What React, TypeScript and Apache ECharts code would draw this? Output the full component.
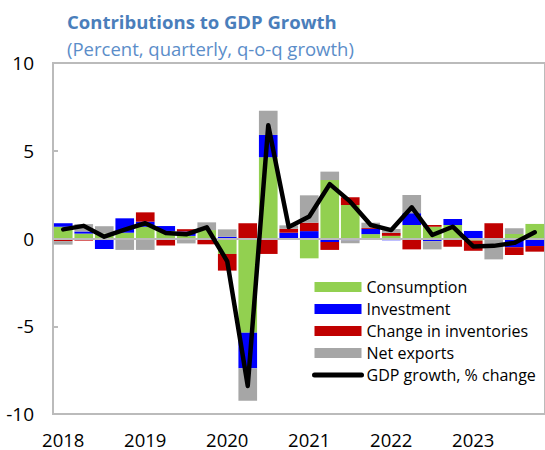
import React, { useEffect, useRef } from "react";
import * as echarts from "echarts";

const years = ["2018", "2019", "2020", "2021", "2022", "2023"];
const quarters = ["Q1", "Q2", "Q3", "Q4"];
const categories = years.flatMap((y) => quarters.map((q) => `${y} ${q}`));

const consumption = [
  0.67, 0.28, 0.28, 0.33,
  0.67, 0.43, 0.15, 0.48,
  -0.88, -5.37, 4.63, 0,
  -1.13, 3.33, 1.91, 0.25,
  0.15, 0.77, 0.67, 0.77,
  -0.12, 0, 0.25, 0.83,
];
const investment = [
  0.2, 0.12, -0.6, 0.82,
  0.29, 0.28, 0.25, -0.05,
  0.1, -2.03, 1.27, 0.33,
  0.42, -0.2, -0.1, 0.3,
  -0.1, 0.67, -0.15, 0.34,
  0.43, 0, -0.5, -0.43,
];
const inventories = [
  -0.15, -0.12, 0, 0,
  0.53, -0.4, 0.13, -0.28,
  -0.95, 0.87, -0.88, 0.22,
  0.48, -0.45, 0.44, 0.05,
  0.17, -0.62, 0.1, -0.47,
  -0.58, 0.87, -0.44, -0.32,
];
const netExports = [
  -0.2, 0.42, 0.42, -0.65,
  -0.65, 0, -0.28, 0.44,
  0.42, -1.84, 1.38, 0.2,
  1.56, 0.48, -0.17, 0.3,
  0.22, 1.04, -0.47, 0,
  0, -1.19, 0.33, 0,
];
const gdpGrowth = [
  0.52, 0.72, 0.1, 0.5,
  0.87, 0.31, 0.24, 0.64,
  -1.3, -8.4, 6.45, 0.65,
  1.25, 3.1, 2.1, 0.77,
  0.48, 1.78, 0.2, 0.67,
  -0.45, -0.42, -0.25, 0.35,
];

const yTicks = { min: -10, max: 10, interval: 5 };

const FONT = "Open Sans";
const GRAY = "#BBBBBB";

export default function App() {
  const ref = useRef<HTMLDivElement>(null);

  useEffect(() => {
    if (!ref.current) return;
    const chart = echarts.init(ref.current, null, { renderer: "svg" });
    const barSeries = (name: string, data: number[], color: string, extra: any = {}) => ({
      name,
      type: "bar",
      stack: "total",
      data,
      barCategoryGap: "9%",
      itemStyle: { color },
      ...extra,
    });
    chart.setOption({
      animation: false,
      textStyle: { fontFamily: FONT },
      title: [
        {
          text: "Contributions to GDP Growth",
          left: 62,
          top: 7,
          textStyle: { fontFamily: FONT, fontSize: 18.5, fontWeight: "bold", color: "#4A7EBB" },
        },
        {
          text: "(Percent, quarterly, q-o-q growth)",
          left: 62,
          top: 34,
          textStyle: { fontFamily: FONT, fontSize: 18.5, fontWeight: "normal", color: "#5B8DC9" },
        },
      ],
      grid: {
        left: 53,
        right: 0,
        top: 63,
        bottom: 36,
        show: true,
        borderColor: GRAY,
        borderWidth: 2,
      },
      legend: {
        orient: "vertical",
        left: 307,
        top: 274,
        itemWidth: 47,
        itemHeight: 10,
        itemGap: 6,
        textStyle: { fontFamily: FONT, fontSize: 16, color: "#000", lineHeight: 16 },
        data: [
          { name: "Consumption", icon: "rect" },
          { name: "Investment", icon: "rect" },
          { name: "Change in inventories", icon: "rect" },
          { name: "Net exports", icon: "rect" },
          {
            name: "GDP growth, % change",
            itemStyle: { opacity: 0 },
            lineStyle: { width: 5, cap: "round", color: "#000" },
          },
        ],
      },
      xAxis: {
        type: "category",
        data: categories,
        axisLine: { show: false },
        axisTick: { show: false },
        axisLabel: {
          interval: 3,
          fontFamily: FONT,
          fontSize: 18.5,
          lineHeight: 18,
          color: "#000",
          margin: 16,
          formatter: (v: string) => v.split(" ")[0],
        },
      },
      yAxis: {
        type: "value",
        min: yTicks.min,
        max: yTicks.max,
        interval: yTicks.interval,
        splitLine: { show: false },
        axisLine: { show: false },
        axisTick: { show: true, inside: true, length: 5, lineStyle: { color: GRAY, width: 2 } },
        axisLabel: { fontFamily: FONT, fontSize: 19, color: "#000", margin: 19 },
      },
      series: [
        barSeries("Consumption", consumption, "#92D050"),
        barSeries("Investment", investment, "#0000FF"),
        barSeries("Change in inventories", inventories, "#C00000"),
        barSeries("Net exports", netExports, "#A6A6A6", {
          markLine: {
            silent: true,
            symbol: "none",
            label: { show: false },
            lineStyle: { color: GRAY, width: 2, type: "solid" },
            data: [{ yAxis: 0 }],
          },
        }),
        {
          name: "GDP growth, % change",
          type: "line",
          data: gdpGrowth,
          symbol: "none",
          z: 5,
          lineStyle: { color: "#000", width: 4.5, join: "round", cap: "round" },
          itemStyle: { color: "#000" },
        },
      ],
    });
    return () => chart.dispose();
  }, []);

  return (
    <div
      ref={ref}
      style={{ position: "absolute", left: 0, top: 0, width: 545, height: 450 }}
    />
  );
}
